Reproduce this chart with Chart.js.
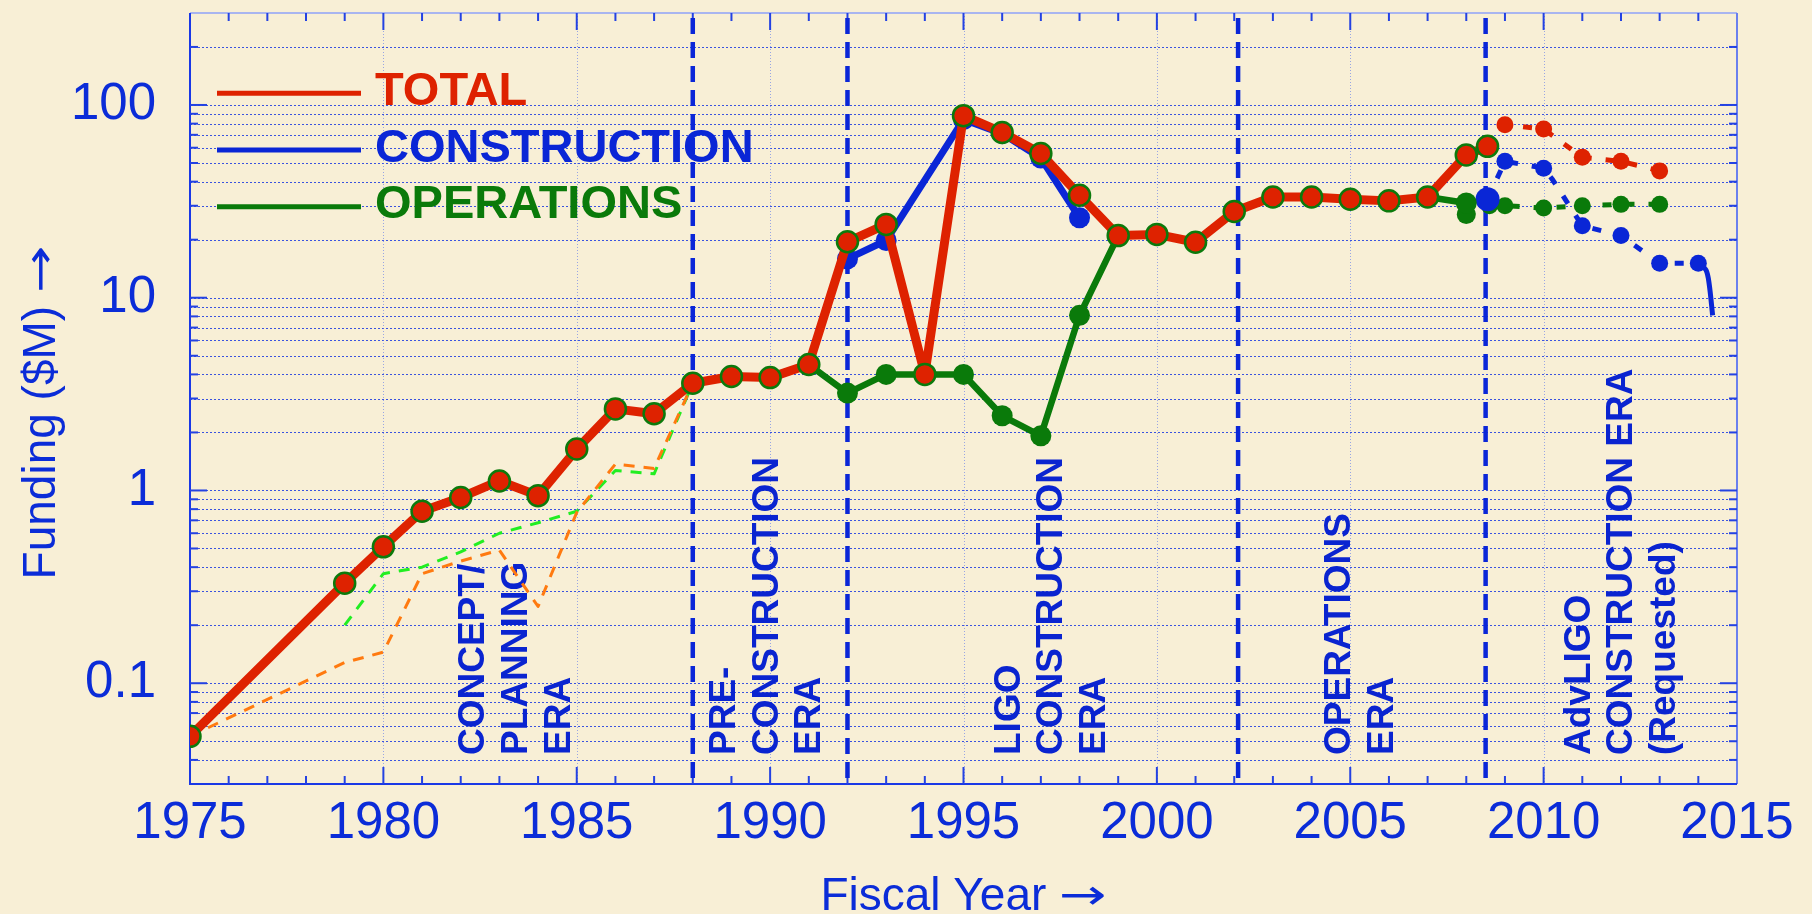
<!DOCTYPE html>
<html>
<head>
<meta charset="utf-8">
<title>LIGO funding</title>
<script src="https://cdn.jsdelivr.net/npm/chart.js@4.4.1/dist/chart.umd.min.js"></script>
<style>
    html, body { margin: 0; padding: 0; background: #f8efd6; }
    #wrap { width: 1812px; height: 914px; }
</style>
</head>
<body>
<div id="wrap"><canvas id="fundingChart" width="1812" height="914"></canvas></div>
<script>
// values ($M per fiscal year)
const totalYears = [1975, 1979, 1980, 1981, 1982, 1983, 1984, 1985, 1986, 1987, 1988, 1989, 1990, 1991,
    1992, 1993, 1994, 1995, 1996, 1997, 1998, 1999, 2000, 2001, 2002, 2003, 2004, 2005, 2006, 2007, 2008, 2008.55];
const totalFunding = [0.053, 0.33, 0.51, 0.78, 0.92, 1.12, 0.94, 1.64, 2.65, 2.5, 3.6, 3.9, 3.85, 4.5,
    19.5, 24, 4.0, 88, 72, 56, 34, 21, 21.3, 19.4, 28, 33.3, 33.3, 32.4, 31.8, 33.3, 55, 61];

const constructionYears = [1992, 1993, 1995, 1996, 1997, 1998];
const constructionFunding = [15.9, 19.8, 84, 71, 53, 26];

const operationsYears = [1988, 1989, 1990, 1991, 1992, 1993, 1994, 1995, 1996, 1997, 1998, 1999, 2000,
    2001, 2002, 2003, 2004, 2005, 2006, 2007, 2008];
const operationsFunding = [3.6, 3.9, 3.85, 4.5, 3.2, 4.0, 4.0, 4.0, 2.44, 1.92, 8.1, 21, 21.3,
    19.4, 28, 33.3, 33.3, 32.4, 31.8, 33.3, 31];

// requested AdvLIGO budget (dotted)
const totalPlanYears = [2008.55, 2009, 2010, 2011, 2012, 2013];
const totalPlan = [61, 79, 75, 53.5, 51, 45.5];
const constructionPlanYears = [2008.55, 2009, 2010, 2010.23, 2011, 2012, 2013, 2014];
const constructionPlan = [32.4, 51, 47, 41, 23.6, 21, 15.1, 15.1];
const constructionTailYears = [2014, 2014.2, 2014.28, 2014.37];
const constructionTail = [15.1, 13.9, 11.8, 8.1];
const operationsPlanYears = [2008, 2008.6, 2009, 2010, 2011, 2012, 2013];
const operationsPlan = [27, 30, 30, 29.2, 30, 30.5, 30.5];

// early planning-era breakdown (thin dashed)
const planningOrangeYears = [1975, 1979, 1980, 1981, 1982, 1983, 1984, 1985, 1986, 1987, 1988];
const planningOrange = [0.053, 0.128, 0.145, 0.37, 0.43, 0.49, 0.25, 0.77, 1.37, 1.3, 3.6];
const planningGreenYears = [1979, 1980, 1981, 1982, 1983, 1984, 1985, 1986, 1987, 1988];
const planningGreen = [0.2, 0.37, 0.4, 0.48, 0.6, 0.68, 0.78, 1.27, 1.22, 3.6];

const eraBoundaries = [1988, 1992, 2002.1, 2008.5];
const eraLabelYears = [1982.35, 1988.83, 1996.19, 2004.74, 2010.93];
const eraLabels = [
    ["CONCEPT/", "PLANNING", "ERA"],
    ["PRE-", "CONSTRUCTION", "ERA"],
    ["LIGO", "CONSTRUCTION", "ERA"],
    ["OPERATIONS", "ERA"],
    ["AdvLIGO", "CONSTRUCTION ERA", "(Requested)"],
];

const xTickYears = [1975, 1980, 1985, 1990, 1995, 2000, 2005, 2010, 2015];
const yTickValues = [0.1, 1, 10, 100];
const xTitle = "Fiscal Year";
const yTitle = "Funding ($M)";

const FONT = "'Liberation Sans', Arial, 'DejaVu Sans', sans-serif";
const RED = "#de2200";
const BLUE = "#0a26d6";
const GREEN = "#0a7a0a";
const INK = "#0b2cd8";

const pts = (xs, ys) => xs.map((x, i) => ({ x, y: ys[i] }));

// minor grid values 0.04 ... 200
const yGridValues = [];
[0.01, 0.1, 1, 10, 100].forEach((d) => {
    for (let m = 1; m <= 9; m++) {
        const v = +(d * m).toPrecision(3);
        if (v > 0.03 && v < 300) yGridValues.push(v);
    }
});

const paperPlugin = {
    id: "paper",
    beforeDraw(chart) {
        const { ctx, width, height } = chart;
        ctx.save();
        ctx.fillStyle = "#f8efd6";
        ctx.fillRect(0, 0, width, height);
        ctx.restore();
    },
};

// axis title followed by a long thin arrow, centred on (cx, cy)
const drawAxisTitle = (ctx, text, cx, cy, upright) => {
    ctx.save();
    ctx.translate(cx, cy);
    if (upright) ctx.rotate(-Math.PI / 2);
    const textFont = `46px ${FONT}`;
    const arrowFont = "42px 'DejaVu Sans', sans-serif";
    const stretch = 1.35;
    ctx.font = textFont;
    const w1 = ctx.measureText(text + " ").width;
    ctx.font = arrowFont;
    const w2 = ctx.measureText("→").width * stretch;
    const x0 = -(w1 + w2) / 2;
    ctx.fillStyle = INK;
    ctx.textAlign = "left";
    ctx.textBaseline = "alphabetic";
    ctx.font = textFont;
    ctx.fillText(text + " ", x0, 16.5);
    ctx.font = arrowFont;
    ctx.translate(x0 + w1, 0);
    ctx.scale(stretch, 1);
    ctx.fillText("→", 0, 15.5);
    ctx.restore();
};

const framePlugin = {
    id: "frame",
    beforeDatasetsDraw(chart) {
        const { ctx, chartArea: a, scales: { x, y } } = chart;
        const seg = (x1, y1, x2, y2) => { ctx.beginPath(); ctx.moveTo(x1, y1); ctx.lineTo(x2, y2); ctx.stroke(); };
        ctx.save();

        // dotted grid
        ctx.lineWidth = 1;
        ctx.setLineDash([2, 2]);
        ctx.strokeStyle = "rgba(25, 55, 225, 0.85)";
        yGridValues.forEach((v) => {
            const py = Math.round(y.getPixelForValue(v)) + 0.5;
            seg(a.left, py, a.right, py);
        });
        ctx.setLineDash([1, 2]);
        ctx.strokeStyle = "rgba(90, 115, 235, 0.6)";
        xTickYears.slice(1, -1).forEach((yr) => {
            const px = Math.round(x.getPixelForValue(yr)) + 0.5;
            seg(px, a.top, px, a.bottom);
        });
        ctx.setLineDash([]);

        // frame
        ctx.lineWidth = 2;
        ctx.strokeStyle = "#a9b5f0";
        seg(a.left, a.top, a.right, a.top);
        ctx.strokeStyle = "#6b80ee";
        seg(a.right, a.top, a.right, a.bottom);
        ctx.strokeStyle = "#1a38e6";
        seg(a.left, a.top, a.left, a.bottom + 1);
        seg(a.left - 1, a.bottom, a.right, a.bottom);

        // inward tick marks
        ctx.strokeStyle = "#2442e2";
        for (let yr = xTickYears[0] + 1; yr < xTickYears[xTickYears.length - 1]; yr++) {
            const px = x.getPixelForValue(yr);
            const len = xTickYears.includes(yr) ? 17 : 8;
            seg(px, a.bottom, px, a.bottom - len);
            seg(px, a.top, px, a.top + len);
        }
        yGridValues.forEach((v) => {
            const py = y.getPixelForValue(v);
            const len = yTickValues.includes(v) ? 17 : 8;
            seg(a.left, py, a.left + len, py);
            seg(a.right, py, a.right - len, py);
        });

        // axis titles
        drawAxisTitle(ctx, xTitle, (a.left + a.right) / 2, 893, false);
        drawAxisTitle(ctx, yTitle, 38, (a.top + a.bottom) / 2 + 14, true);

        // era boundaries
        ctx.strokeStyle = "#0a26d8";
        ctx.lineWidth = 4.5;
        ctx.setLineDash([16, 8]);
        eraBoundaries.forEach((yr) => {
            const px = x.getPixelForValue(yr);
            seg(px, a.top + 5, px, a.bottom);
        });
        ctx.setLineDash([]);

        // era names, written upwards
        ctx.fillStyle = "#0a24d0";
        ctx.font = `bold 37px ${FONT}`;
        ctx.textAlign = "left";
        ctx.textBaseline = "middle";
        eraLabels.forEach((lines, i) => {
            const px = x.getPixelForValue(eraLabelYears[i]);
            lines.forEach((text, j) => {
                ctx.save();
                ctx.translate(px + j * 42.7, a.bottom - 29);
                ctx.rotate(-Math.PI / 2);
                ctx.fillText(text, 0, 0);
                ctx.restore();
            });
        });

        // legend
        ctx.font = `bold 47px ${FONT}`;
        ctx.textBaseline = "alphabetic";
        ctx.lineWidth = 5;
        chart.data.datasets.filter((ds) => ds.legend).forEach((ds, i) => {
            const base = a.top + 92 + i * 56.7;
            ctx.strokeStyle = ds.borderColor;
            seg(a.left + 27, base - 11.7, a.left + 171, base - 11.7);
            ctx.fillStyle = ds.borderColor;
            ctx.fillText(ds.label, a.left + 185, base);
        });
        ctx.restore();
    },
};

const planDash = [9, 14];

new Chart(document.getElementById("fundingChart"), {
    type: "line",
    data: {
        datasets: [
            {
                label: "TOTAL", legend: true, data: pts(totalYears, totalFunding),
                borderColor: RED, backgroundColor: RED, borderWidth: 9,
                pointRadius: 10.5, pointBackgroundColor: RED, pointBorderColor: "#0c7a0c", pointBorderWidth: 2.5,
            },
            {
                label: "CONSTRUCTION", legend: true, data: pts(constructionYears, constructionFunding),
                borderColor: BLUE, backgroundColor: BLUE, borderWidth: 7,
                pointRadius: 10.5, pointBackgroundColor: BLUE, pointBorderWidth: 0,
            },
            {
                label: "OPERATIONS", legend: true, data: pts(operationsYears, operationsFunding),
                borderColor: GREEN, backgroundColor: GREEN, borderWidth: 6.5,
                pointRadius: 10.5, pointBackgroundColor: GREEN, pointBorderWidth: 0,
            },
            {
                label: "TOTAL requested", data: pts(totalPlanYears, totalPlan),
                borderColor: RED, borderWidth: 5, borderDash: planDash,
                pointRadius: [0, 8.5, 8.5, 8.5, 8.5, 8.5], pointBackgroundColor: RED, pointBorderWidth: 0,
            },
            {
                label: "CONSTRUCTION requested", data: pts(constructionPlanYears, constructionPlan),
                borderColor: BLUE, borderWidth: 5, borderDash: planDash,
                pointRadius: [12, 8.5, 8.5, 0, 8.5, 8.5, 8.5, 8.5], pointBackgroundColor: BLUE, pointBorderWidth: 0,
            },
            {
                label: "CONSTRUCTION tail", data: pts(constructionTailYears, constructionTail),
                borderColor: BLUE, borderWidth: 5, pointRadius: 0, tension: 0.3,
            },
            {
                label: "OPERATIONS requested", data: pts(operationsPlanYears, operationsPlan),
                borderColor: GREEN, borderWidth: 5, borderDash: planDash,
                pointRadius: [9.5, 8.5, 8.5, 8.5, 8.5, 8.5, 8.5], pointBackgroundColor: GREEN, pointBorderWidth: 0,
            },
            {
                label: "planning (orange)", data: pts(planningOrangeYears, planningOrange),
                borderColor: "#ff7a10", borderWidth: 3, borderDash: [11, 9], pointRadius: 0,
            },
            {
                label: "planning (green)", data: pts(planningGreenYears, planningGreen),
                borderColor: "#22ee22", borderWidth: 3, borderDash: [11, 9], pointRadius: 0,
            },
        ],
    },
    options: {
        responsive: false,
        animation: false,
        events: [],
        elements: { line: { borderJoinStyle: "round", borderCapStyle: "butt", fill: false } },
        layout: { padding: { left: 0, right: 75, top: 8, bottom: 0 } },
        plugins: { legend: { display: false }, tooltip: { enabled: false } },
        scales: {
            x: {
                type: "linear", min: 1975, max: 2015,
                afterBuildTicks: (s) => { s.ticks = xTickYears.map((value) => ({ value })); },
                afterFit: (s) => { s.height = 130; s.paddingLeft = 0; s.paddingRight = 0; },
                grid: { display: false, drawTicks: false },
                border: { display: false },
                ticks: {
                    color: INK, font: { family: FONT, size: 51 }, padding: 9,
                    maxRotation: 0, autoSkip: false, callback: (v) => String(v),
                },
            },
            y: {
                type: "logarithmic", min: 0.03, max: 300,
                afterBuildTicks: (s) => { s.ticks = yTickValues.map((value) => ({ value })); },
                afterFit: (s) => { s.width = 190; s.paddingTop = 0; s.paddingBottom = 0; },
                grid: { display: false, drawTicks: false },
                border: { display: false },
                ticks: { color: INK, font: { family: FONT, size: 51 }, padding: 34, callback: (v) => String(v) },
            },
        },
    },
    plugins: [paperPlugin, framePlugin],
});
</script>
</body>
</html>
